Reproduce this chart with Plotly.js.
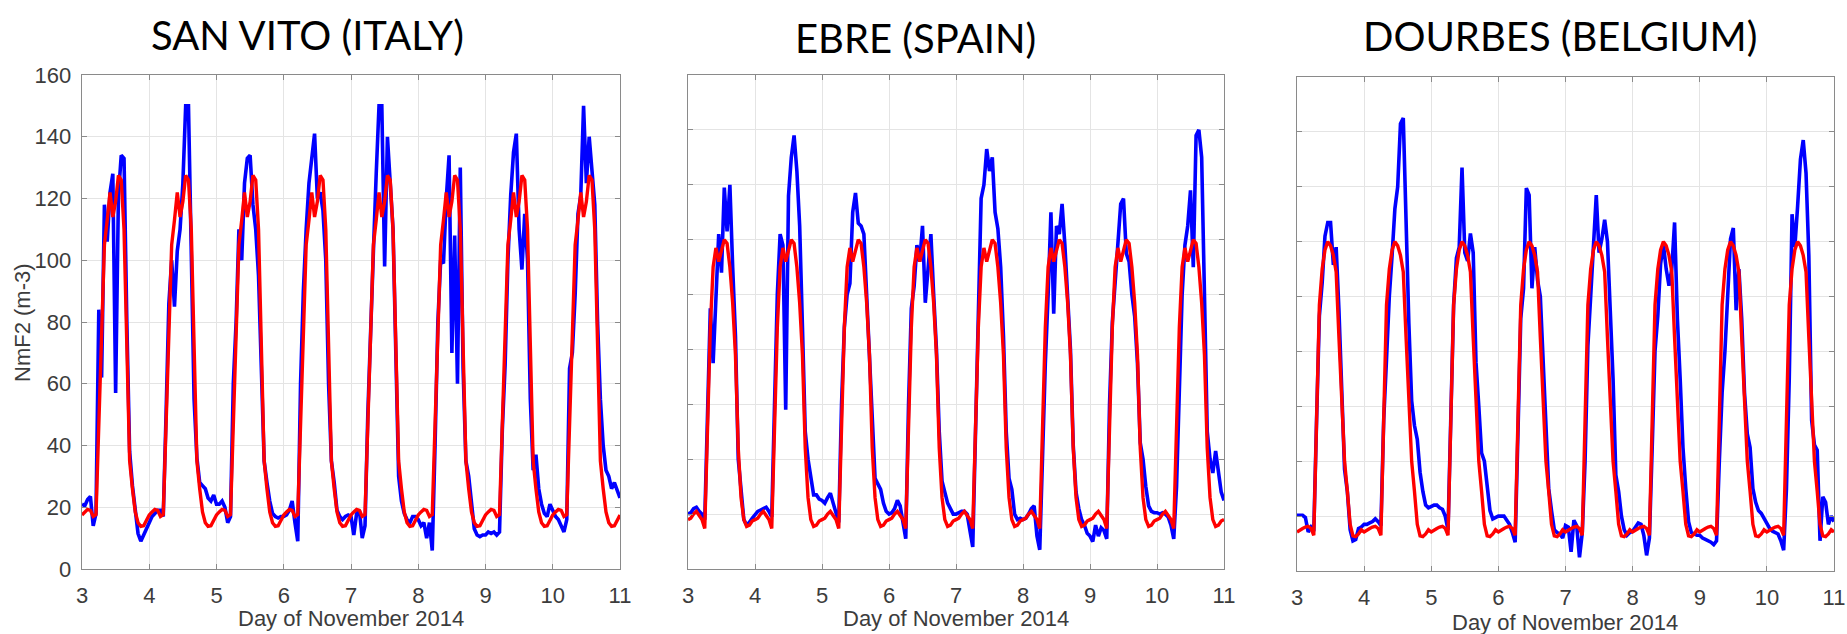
<!DOCTYPE html>
<html>
<head>
<meta charset="utf-8">
<script src="https://cdn.plot.ly/plotly-3.0.1.min.js"></script>
<style>
html, body { margin: 0; padding: 0; background: #ffffff; }
#chart { width: 1847px; height: 634px; }
</style>
</head>
<body>
<div id="chart"></div>
<script>
// ---------------- DATA ----------------
const stationNames = ['SAN VITO (ITALY)', 'EBRE (SPAIN)', 'DOURBES (BELGIUM)'];
const xTitle = 'Day of November 2014';
const yTitle = 'NmF2 (m-3)';
const dayTicks = [3, 4, 5, 6, 7, 8, 9, 10, 11];
const yTicksSanVito = [0, 20, 40, 60, 80, 100, 120, 140, 160];

// hourly samples, 3 Nov 00 UT ... 11 Nov 00 UT
const sampleTimes = [];
for (let i = 0; i <= 8 * 24; i++) sampleTimes.push(3 + i / 24);

// SAN VITO observed (blue)
const sanVitoObs = [
  21, 20.5, 22.5, 23.5, 14, 18, 84, 62, 118, 106, 122, 128, 57, 121, 134, 133, 80, 38, 27, 20, 11.5, 9, 11, 13.5,
  15.5, 17, 18, 19, 19, 17, 50, 86, 100, 85, 103, 110, 125, 150, 150, 105, 55, 36, 28, 27, 26, 23, 22, 24,
  21, 21, 22, 20, 15, 17, 60, 80, 110, 100, 125, 133, 134, 118, 110, 95, 62, 35, 28, 22, 18, 17, 16.5, 17,
  17, 17.5, 19, 22, 15, 9, 60, 90, 110, 125, 133, 141, 120, 122, 116, 100, 60, 35, 28, 19, 17, 16, 17, 17.5,
  17, 11, 18, 19, 10, 14, 50, 80, 103, 128, 150, 150, 98, 140, 126, 110, 70, 30, 22, 18, 16, 15, 17, 17,
  16, 14, 15, 10, 15, 6, 40, 80, 100, 99, 120, 134, 70, 108, 60, 130, 65, 35, 30, 22, 13, 11, 10.5, 11,
  11, 12, 11.5, 12, 11, 12, 45, 66, 100, 121, 135, 141, 110, 97, 115, 100, 55, 32, 37, 26, 21, 18, 17, 21,
  19, 17, 16, 14, 12, 16, 65, 70, 89, 115, 121, 150, 125, 140, 130, 118, 80, 55, 40, 32, 30, 26, 28, 25,
  23
];
// SAN VITO model (red)
const sanVitoModel = [
  17.5, 18.5, 19.3, 19, 17, 17.6, 46, 81, 105, 113, 122, 114, 119, 127.5, 126, 110, 68, 35, 26, 18.5, 15, 13.8, 14, 16,
  17.5, 18.5, 19.3, 19, 17, 17.6, 46, 81, 105, 113, 122, 114, 119, 127.5, 126, 110, 68, 35, 26, 18.5, 15, 13.8, 14, 16,
  17.5, 18.5, 19.3, 19, 17, 17.6, 46, 81, 105, 113, 122, 114, 119, 127.5, 126, 110, 68, 35, 26, 18.5, 15, 13.8, 14, 16,
  17.5, 18.5, 19.3, 19, 17, 17.6, 46, 81, 105, 113, 122, 114, 119, 127.5, 126, 110, 68, 35, 26, 18.5, 15, 13.8, 14, 16,
  17.5, 18.5, 19.3, 19, 17, 17.6, 46, 81, 105, 113, 122, 114, 119, 127.5, 126, 110, 68, 35, 26, 18.5, 15, 13.8, 14, 16,
  17.5, 18.5, 19.3, 19, 17, 17.6, 46, 81, 105, 113, 122, 114, 119, 127.5, 126, 110, 68, 35, 26, 18.5, 15, 13.8, 14, 16,
  17.5, 18.5, 19.3, 19, 17, 17.6, 46, 81, 105, 113, 122, 114, 119, 127.5, 126, 110, 68, 35, 26, 18.5, 15, 13.8, 14, 16,
  17.5, 18.5, 19.3, 19, 17, 17.6, 46, 81, 105, 113, 122, 114, 119, 127.5, 126, 110, 68, 35, 26, 18.5, 15, 13.8, 14, 16,
  17.5
];

// EBRE observed (blue)
const ebreObs = [
  20, 20.5, 22, 22.5, 21, 20, 18, 60, 95, 75, 101, 122, 108, 139, 123, 140, 110, 85, 40, 27, 18, 16, 17, 18.5,
  20, 21, 21.5, 22, 22.5, 21, 19, 60, 100, 122, 118, 58, 136, 150, 158, 145, 125, 88, 50, 40, 34, 27, 27, 25.5,
  25, 24, 26, 27.6, 24, 20, 17, 60, 88, 100, 104, 130, 137, 126, 125, 122, 100, 78, 50, 33, 31, 29, 24, 21,
  20, 20.5, 22, 25, 23, 17, 11, 60, 95, 103, 118, 112, 125, 97, 110, 122, 100, 80, 50, 32, 28, 24, 22, 20,
  20, 20.5, 21, 21, 20, 14, 8, 50, 95, 135, 140, 153, 145, 150, 130, 124, 110, 85, 50, 33, 29, 20, 18, 18.5,
  18, 18.5, 20, 22, 23, 12, 7, 45, 75, 100, 130, 93, 125, 122, 133, 118, 100, 80, 45, 28, 22, 18, 16, 13,
  12, 10, 16, 12, 15, 14, 11, 60, 90, 105, 118, 133, 135, 115, 112, 100, 92, 75, 46, 40, 30, 23, 21, 20.5,
  20.5, 20, 20.5, 20, 19, 16, 11, 30, 65, 100, 118, 125, 138, 110, 158, 160, 150, 100, 50, 40, 35, 43, 35, 28,
  25
];
// EBRE model (red)
const ebreModel = [
  18, 18.5, 20, 21, 19.5, 18, 14.8, 48, 88, 110, 117, 112, 116, 120, 118.6, 110, 97, 78, 44, 26, 18, 15.5, 16, 17.5,
  18, 18.5, 20, 21, 19.5, 18, 14.8, 48, 88, 110, 117, 112, 116, 120, 118.6, 110, 97, 78, 44, 26, 18, 15.5, 16, 17.5,
  18, 18.5, 20, 21, 19.5, 18, 14.8, 48, 88, 110, 117, 112, 116, 120, 118.6, 110, 97, 78, 44, 26, 18, 15.5, 16, 17.5,
  18, 18.5, 20, 21, 19.5, 18, 14.8, 48, 88, 110, 117, 112, 116, 120, 118.6, 110, 97, 78, 44, 26, 18, 15.5, 16, 17.5,
  18, 18.5, 20, 21, 19.5, 18, 14.8, 48, 88, 110, 117, 112, 116, 120, 118.6, 110, 97, 78, 44, 26, 18, 15.5, 16, 17.5,
  18, 18.5, 20, 21, 19.5, 18, 14.8, 48, 88, 110, 117, 112, 116, 120, 118.6, 110, 97, 78, 44, 26, 18, 15.5, 16, 17.5,
  18, 18.5, 20, 21, 19.5, 18, 14.8, 48, 88, 110, 117, 112, 116, 120, 118.6, 110, 97, 78, 44, 26, 18, 15.5, 16, 17.5,
  18, 18.5, 20, 21, 19.5, 18, 14.8, 48, 88, 110, 117, 112, 116, 120, 118.6, 110, 97, 78, 44, 26, 18, 15.5, 16, 17.5,
  18
];

// DOURBES observed (blue)
const dourbesObs = [
  20.3, 20.3, 20.3, 19.5, 14.2, 16, 14.5, 55, 93, 105, 122, 127, 127, 111.5, 118, 95, 62, 37, 29, 15, 11, 11.5, 15.5, 16,
  17, 17, 17.5, 18, 19, 18, 16.5, 55, 77, 100, 115, 132, 140, 163, 165, 122, 90, 62, 53, 48, 36, 29, 24, 23,
  23.5, 24, 24, 23, 22.5, 20, 15, 62, 97, 114, 118, 147, 116, 113, 123, 116, 76, 60, 43, 40, 30, 22, 19, 19.5,
  20, 20, 20, 18.5, 17, 14, 10.5, 50, 92, 103, 139.5, 137, 103, 118, 106, 100, 75, 50, 30, 22, 15, 14, 13.5, 12,
  16.6, 16, 7, 18.5, 16.5, 5, 14, 40, 82, 100, 117.6, 137, 116, 121, 128, 120, 95, 70, 35, 29, 20, 15, 13, 14,
  14.5, 16, 17.5, 17, 13, 5.7, 12, 45, 80, 93, 112, 119, 110, 104, 110, 127, 92, 70, 45, 30, 18, 14, 13.5, 13,
  13, 12, 11.5, 11, 10.5, 9.6, 11, 40, 65, 80, 100, 121, 125, 95, 110, 92, 65, 50, 45, 30, 25, 22, 21, 19,
  17, 15.5, 14.5, 14, 13.5, 11, 7.6, 30, 70, 130, 118, 133, 150, 157, 145, 115, 55, 46, 44, 11, 27, 25, 17, 20,
  18
];
// DOURBES model (red)
const dourbesModel = [
  14.2, 15, 15.5, 16, 16.3, 15.5, 13, 55, 97, 110, 117, 120, 118.5, 115, 109, 85, 61, 40, 29, 17, 12.8, 12.5, 13.5, 15,
  14.2, 15, 15.5, 16, 16.3, 15.5, 13, 55, 97, 110, 117, 120, 118.5, 115, 109, 85, 61, 40, 29, 17, 12.8, 12.5, 13.5, 15,
  14.2, 15, 15.5, 16, 16.3, 15.5, 13, 55, 97, 110, 117, 120, 118.5, 115, 109, 85, 61, 40, 29, 17, 12.8, 12.5, 13.5, 15,
  14.2, 15, 15.5, 16, 16.3, 15.5, 13, 55, 97, 110, 117, 120, 118.5, 115, 109, 85, 61, 40, 29, 17, 12.8, 12.5, 13.5, 15,
  14.2, 15, 15.5, 16, 16.3, 15.5, 13, 55, 97, 110, 117, 120, 118.5, 115, 109, 85, 61, 40, 29, 17, 12.8, 12.5, 13.5, 15,
  14.2, 15, 15.5, 16, 16.3, 15.5, 13, 55, 97, 110, 117, 120, 118.5, 115, 109, 85, 61, 40, 29, 17, 12.8, 12.5, 13.5, 15,
  14.2, 15, 15.5, 16, 16.3, 15.5, 13, 55, 97, 110, 117, 120, 118.5, 115, 109, 85, 61, 40, 29, 17, 12.8, 12.5, 13.5, 15,
  14.2, 15, 15.5, 16, 16.3, 15.5, 13, 55, 97, 110, 117, 120, 118.5, 115, 109, 85, 61, 40, 29, 17, 12.8, 12.5, 13.5, 15,
  14.2
];

// ---------------- LAYOUT ----------------
const W = 1847, H = 634;
const px = v => v / W;
const py = v => 1 - v / H;

const BLUE = '#0000ff', RED = '#ff0000';
const tickFont = { family: 'Liberation Sans, Arial, sans-serif', size: 22, color: '#3c3c3c' };
const frame = '#8a8a8a';

function xAxis(d0, d1) {
  return {
    domain: [px(d0), px(d1)], range: [3, 11], tickvals: dayTicks, ticktext: dayTicks.map(String),
    showline: true, linecolor: frame, linewidth: 1.4, mirror: 'ticks',
    ticks: 'inside', ticklen: 5, tickcolor: frame, tickwidth: 1,
    showgrid: true, gridcolor: '#e4e4e4', gridwidth: 1, zeroline: false,
    tickfont: tickFont, ticklabelstandoff: 6, fixedrange: true
  };
}
function yAxis(top, bottom, maxV, labels, anchor) {
  const vals = [];
  for (let v = 0; v <= maxV; v += 20) vals.push(v);
  return {
    domain: [py(bottom), py(top)], range: [0, maxV], tickvals: vals,
    showticklabels: labels, anchor: anchor,
    showline: true, linecolor: frame, linewidth: 1.4, mirror: 'ticks',
    ticks: 'inside', ticklen: 5, tickcolor: frame, tickwidth: 1,
    showgrid: true, gridcolor: '#e4e4e4', gridwidth: 1, zeroline: false,
    tickfont: tickFont, ticklabelstandoff: 5, fixedrange: true
  };
}

const traces = [
  { x: sampleTimes, y: sanVitoObs, xaxis: 'x', yaxis: 'y', mode: 'lines', line: { color: BLUE, width: 3.6 } },
  { x: sampleTimes, y: sanVitoModel, xaxis: 'x', yaxis: 'y', mode: 'lines', line: { color: RED, width: 3.4 } },
  { x: sampleTimes, y: ebreObs, xaxis: 'x2', yaxis: 'y2', mode: 'lines', line: { color: BLUE, width: 3.6 } },
  { x: sampleTimes, y: ebreModel, xaxis: 'x2', yaxis: 'y2', mode: 'lines', line: { color: RED, width: 3.4 } },
  { x: sampleTimes, y: dourbesObs, xaxis: 'x3', yaxis: 'y3', mode: 'lines', line: { color: BLUE, width: 3.6 } },
  { x: sampleTimes, y: dourbesModel, xaxis: 'x3', yaxis: 'y3', mode: 'lines', line: { color: RED, width: 3.4 } }
];

const titleFont = { family: 'Lato, Noto Sans, sans-serif', size: 40, color: '#000000' };
const labelFont = { family: 'Liberation Sans, Arial, sans-serif', size: 22, color: '#3c3c3c' };

const ann = (text, x, y, font, extra) => Object.assign({
  text: text, xref: 'paper', yref: 'paper', x: px(x), y: py(y),
  xanchor: 'center', yanchor: 'middle', showarrow: false, font: font
}, extra || {});

const layout = {
  width: W, height: H,
  margin: { l: 0, r: 0, t: 0, b: 0 },
  paper_bgcolor: '#ffffff', plot_bgcolor: '#ffffff',
  showlegend: false,
  xaxis: Object.assign(xAxis(82, 620), { anchor: 'y' }),
  yaxis: yAxis(75, 569, 160, true, 'x'),
  xaxis2: Object.assign(xAxis(688, 1224), { anchor: 'y2' }),
  yaxis2: yAxis(75, 569, 180, false, 'x2'),
  xaxis3: Object.assign(xAxis(1297, 1834), { anchor: 'y3' }),
  yaxis3: yAxis(77, 571, 180, false, 'x3'),
  annotations: [
    ann(stationNames[0], 307, 35, titleFont),
    ann(stationNames[1], 915, 38, titleFont),
    ann(stationNames[2], 1560, 36, titleFont),
    ann(xTitle, 351, 618, labelFont),
    ann(xTitle, 956, 618, labelFont),
    ann(xTitle, 1565, 622, labelFont),
    ann(yTitle, 22, 323, labelFont, { textangle: -90 })
  ]
};

Plotly.newPlot('chart', traces, layout, { displayModeBar: false, staticPlot: true });
</script>
</body>
</html>
